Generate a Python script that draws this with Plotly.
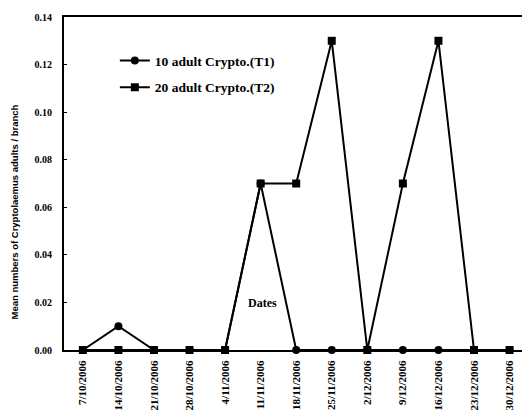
import plotly.graph_objects as go

dates = ["7/10/2006", "14/10/2006", "21/10/2006", "28/10/2006", "4/11/2006",
         "11/11/2006", "18/11/2006", "25/11/2006", "2/12/2006", "9/12/2006",
         "16/12/2006", "23/12/2006", "30/12/2006"]
t1 = [0, 0.01, 0, 0, 0, 0.07, 0, 0, 0, 0, 0, 0, 0]
t2 = [0, 0, 0, 0, 0, 0.07, 0.07, 0.13, 0, 0.07, 0.13, 0, 0]
y_ticks = [0.00, 0.02, 0.04, 0.06, 0.08, 0.10, 0.12, 0.14]
y_ticktext = ["0.00", "0.02", "0.04", "0.06", "0.08", "0.10", "0.12", "0.14"]

serif = "Liberation Serif"

fig = go.Figure()
fig.add_trace(go.Scatter(x=dates, y=t1, mode="lines+markers", name="<b>10 adult Crypto.(T1)</b>",
                         legendgroup="a",
                         line=dict(color="black", width=2),
                         marker=dict(symbol="circle", size=8, color="black"),
                         cliponaxis=False))
fig.add_trace(go.Scatter(x=dates, y=t2, mode="lines+markers", name="<b>20 adult Crypto.(T2)</b>",
                         legendgroup="b",
                         line=dict(color="black", width=2),
                         marker=dict(symbol="square", size=8, color="black"),
                         cliponaxis=False))

fig.update_layout(
    width=522, height=418,
    margin=dict(l=64, r=0, t=17, b=68, autoexpand=False),
    paper_bgcolor="white", plot_bgcolor="white",
    font=dict(family=serif, color="black", size=10),
    showlegend=True,
    legend=dict(x=0.111, y=0.915, xanchor="left", yanchor="top",
                bgcolor="rgba(0,0,0,0)", font=dict(family=serif, size=13.5, color="black"),
                tracegroupgap=6, itemwidth=30),
    xaxis=dict(type="category", range=[-0.53, 12.35], showgrid=False, zeroline=False,
               automargin=False,
               showline=True, linecolor="black", linewidth=2, mirror=True,
               ticks="", tickangle=-90, tickfont=dict(family=serif, size=11, color="black"),
               tickvals=dates, ticktext=["<b>%s</b>" % d for d in dates],
               ticklabelstandoff=4),
    yaxis=dict(range=[0, 0.14], showgrid=False, zeroline=False, automargin=False,
               showline=True, linecolor="black", linewidth=2,
               ticks="inside", ticklen=3, tickcolor="black",
               tickvals=y_ticks, ticktext=["<b>%s</b>" % t for t in y_ticktext],
               tickfont=dict(family=serif, size=10, color="black"),
               ticklabelstandoff=8),
    annotations=[
        dict(text="<b>Mean numbers of Cryptolaemus adults / branch</b>", xref="paper", yref="paper",
             x=-0.124, y=0.415, textangle=-90, showarrow=False,
             font=dict(family="Liberation Sans", size=9.5, color="black")),
        dict(text="<b>Dates</b>", xref="paper", yref="paper", x=0.434, y=0.114,
             showarrow=False, font=dict(family=serif, size=12, color="black")),
    ],
)

fig.write_html("out.html", config={"displayModeBar": False},
               post_script="document.body.style.margin='0px';")
